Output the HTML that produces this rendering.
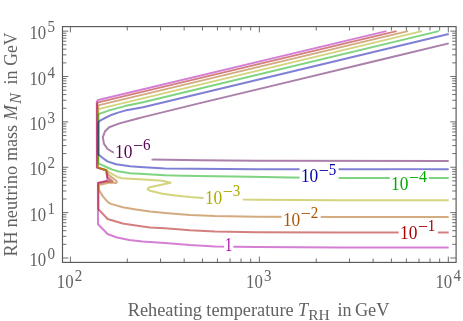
<!DOCTYPE html>
<html><head><meta charset="utf-8"><title>plot</title>
<style>html,body{margin:0;padding:0;background:#fff;}svg{display:block;will-change:transform;}text{font-family:"Liberation Serif",serif;}</style></head><body>
<svg width="463" height="321" viewBox="0 0 463 321">
<rect x="0" y="0" width="463" height="321" fill="#fff"/>
<path d="M386.5,31.1 L98.2,100.0 L97.3,100.7 L96.8,102.0 L96.9,167.5 L106.2,170.2 L107.6,180.5 L97.9,183.0 L98.0,224.2 L107.6,234.0 L116.1,237.3 L129.2,239.9 L142.3,241.6 L165.0,243.1 L190.0,245.1 L215.0,246.5 L256.0,247.1 L340.0,247.5 L448.7,247.6" fill="none" stroke="#aa00aa" stroke-opacity="0.50" stroke-width="2.00" stroke-linejoin="round" stroke-linecap="butt" />
<path d="M396.6,31.1 L98.2,102.4 L97.2,103.4 L97.2,167.6 L106.3,170.3 L107.3,176.6 L107.9,177.6 L112.6,181.4 L108.2,181.2 L98.3,183.1 L98.5,209.2 L107.6,219.0 L122.7,223.5 L135.8,225.5 L150.0,227.5 L165.0,228.3 L190.0,230.2 L215.0,231.4 L256.0,232.2 L340.0,232.5 L448.7,232.6" fill="none" stroke="#aa0000" stroke-opacity="0.50" stroke-width="2.00" stroke-linejoin="round" stroke-linecap="butt" />
<path d="M408.0,31.1 L99.1,105.1 L98.1,106.2 L98.0,167.6 L106.5,170.3 L108.5,174.9 L116.3,180.8 L116.9,181.7 L116.3,182.9 L110.0,182.6 L99.6,184.7 L98.7,185.2 L98.7,189.6 L103.1,196.6 L107.9,202.2 L110.9,203.9 L122.7,207.2 L135.8,209.4 L150.0,211.5 L165.0,213.0 L190.0,215.0 L215.0,216.1 L256.0,216.8 L340.0,217.0 L448.7,217.1" fill="none" stroke="#aa5500" stroke-opacity="0.50" stroke-width="2.00" stroke-linejoin="round" stroke-linecap="butt" />
<path d="M421.9,31.1 L99.2,108.9 L98.2,110.0 L98.1,167.6 L106.5,170.2 L109.5,172.3 L112.7,174.4 L117.9,177.2 L122.0,178.3 L130.0,178.8 L143.8,179.5 L162.6,180.7 L170.7,182.8 L162.6,184.4 L148.8,187.5 L147.6,189.4 L150.0,190.7 L162.6,193.8 L175.1,195.4 L190.0,197.1 L202.6,198.0 L242.8,199.5 L256.0,199.7 L340.0,200.2 L448.7,200.3" fill="none" stroke="#aaaa00" stroke-opacity="0.50" stroke-width="2.00" stroke-linejoin="round" stroke-linecap="butt" />
<path d="M438.9,31.1 L143.0,102.3 L125.0,106.1 L110.0,110.1 L99.2,113.9 L98.2,115.2 L98.2,163.3 L107.4,167.5 L112.5,169.6 L117.9,171.2 L130.0,173.3 L143.8,174.1 L165.0,175.3 L183.0,175.7 L215.0,176.2 L250.0,176.8 L290.0,177.5 L340.0,177.9 L448.7,178.0" fill="none" stroke="#00aa00" stroke-opacity="0.50" stroke-width="2.00" stroke-linejoin="round" stroke-linecap="butt" />
<path d="M448.7,34.0 L143.0,107.2 L125.0,110.6 L118.0,112.6 L112.0,114.7 L106.0,117.5 L101.5,119.8 L99.3,121.2 L98.5,122.6 L98.5,154.4 L103.1,158.2 L107.4,161.4 L116.1,164.2 L130.0,166.2 L140.0,167.0 L165.0,168.5 L256.0,169.3 L448.7,169.3" fill="none" stroke="#0000aa" stroke-opacity="0.50" stroke-width="2.00" stroke-linejoin="round" stroke-linecap="butt" />
<path d="M448.7,43.4 L388.0,58.0 L270.0,86.4 L201.0,102.9 L143.0,117.1 L136.8,118.8 L119.5,123.4 L109.2,127.2 L104.9,131.5 L102.8,137.3 L104.0,143.9 L107.5,149.0 L112.6,152.0 L116.0,153.2" fill="none" stroke="#550055" stroke-opacity="0.50" stroke-width="2.00" stroke-linejoin="round" stroke-linecap="butt" />
<path d="M151.5,159.5 L200.0,160.3 L256.0,160.8 L448.7,160.9" fill="none" stroke="#550055" stroke-opacity="0.50" stroke-width="2.00" stroke-linejoin="round" stroke-linecap="butt" />
<rect x="113.8" y="138.4" width="39.1" height="20.4" fill="#fff"/><text transform="translate(115.10,157.80) scale(1.020,1.055)" font-size="17.00" fill="#550055" >10</text><text transform="translate(133.00,151.10) scale(1.160,1.120)" font-size="15.50" fill="#550055" >−</text><text transform="translate(142.90,150.10) scale(0.970,1.120)" font-size="15.50" fill="#550055" >6</text>
<rect x="299.6" y="162.5" width="39.1" height="20.4" fill="#fff"/><text transform="translate(300.90,181.90) scale(1.020,1.055)" font-size="17.00" fill="#0000aa" >10</text><text transform="translate(318.80,175.80) scale(1.160,1.120)" font-size="15.50" fill="#0000aa" >−</text><text transform="translate(328.70,174.80) scale(0.970,1.120)" font-size="15.50" fill="#0000aa" >5</text>
<rect x="389.8" y="170.5" width="39.1" height="20.4" fill="#fff"/><text transform="translate(391.10,189.90) scale(1.020,1.055)" font-size="17.00" fill="#00aa00" >10</text><text transform="translate(409.00,183.20) scale(1.160,1.120)" font-size="15.50" fill="#00aa00" >−</text><text transform="translate(418.90,182.20) scale(1.030,1.120)" font-size="15.50" fill="#00aa00" >4</text>
<rect x="203.6" y="184.5" width="39.1" height="20.4" fill="#fff"/><text transform="translate(204.90,203.90) scale(1.020,1.055)" font-size="17.00" fill="#aaaa00" >10</text><text transform="translate(222.80,197.20) scale(1.160,1.120)" font-size="15.50" fill="#aaaa00" >−</text><text transform="translate(232.70,196.20) scale(0.970,1.120)" font-size="15.50" fill="#aaaa00" >3</text>
<rect x="281.6" y="206.5" width="39.1" height="20.4" fill="#fff"/><text transform="translate(282.90,225.90) scale(1.020,1.055)" font-size="17.00" fill="#aa5500" >10</text><text transform="translate(300.80,219.20) scale(1.160,1.120)" font-size="15.50" fill="#aa5500" >−</text><text transform="translate(310.70,218.20) scale(0.970,1.120)" font-size="15.50" fill="#aa5500" >2</text>
<rect x="398.7" y="219.5" width="39.1" height="20.4" fill="#fff"/><text transform="translate(400.00,238.90) scale(1.020,1.055)" font-size="17.00" fill="#aa0000" >10</text><text transform="translate(417.90,231.90) scale(1.160,1.120)" font-size="15.50" fill="#aa0000" >−</text><text transform="translate(427.80,230.90) scale(0.970,1.120)" font-size="15.50" fill="#aa0000" >1</text>
<rect x="224.1" y="237.5" width="9.2" height="15.0" fill="#fff"/><text transform="translate(224.90,251.00) scale(0.850,1.055)" font-size="17.00" fill="#aa00aa" >1</text>
<rect x="62.5" y="26.6" width="393.6" height="235.8" fill="none" stroke="#585858" stroke-width="1.15"/>
<path d="M62.5,258.00 h5.8 M456.1,258.00 h-5.8 M62.5,244.34 h3.9 M456.1,244.34 h-3.9 M62.5,236.35 h3.9 M456.1,236.35 h-3.9 M62.5,230.68 h3.9 M456.1,230.68 h-3.9 M62.5,226.29 h3.9 M456.1,226.29 h-3.9 M62.5,222.70 h3.9 M456.1,222.70 h-3.9 M62.5,219.66 h3.9 M456.1,219.66 h-3.9 M62.5,217.03 h3.9 M456.1,217.03 h-3.9 M62.5,214.71 h3.9 M456.1,214.71 h-3.9 M62.5,212.63 h5.8 M456.1,212.63 h-5.8 M62.5,198.97 h3.9 M456.1,198.97 h-3.9 M62.5,190.98 h3.9 M456.1,190.98 h-3.9 M62.5,185.31 h3.9 M456.1,185.31 h-3.9 M62.5,180.92 h3.9 M456.1,180.92 h-3.9 M62.5,177.33 h3.9 M456.1,177.33 h-3.9 M62.5,174.29 h3.9 M456.1,174.29 h-3.9 M62.5,171.66 h3.9 M456.1,171.66 h-3.9 M62.5,169.34 h3.9 M456.1,169.34 h-3.9 M62.5,167.26 h5.8 M456.1,167.26 h-5.8 M62.5,153.60 h3.9 M456.1,153.60 h-3.9 M62.5,145.61 h3.9 M456.1,145.61 h-3.9 M62.5,139.94 h3.9 M456.1,139.94 h-3.9 M62.5,135.55 h3.9 M456.1,135.55 h-3.9 M62.5,131.96 h3.9 M456.1,131.96 h-3.9 M62.5,128.92 h3.9 M456.1,128.92 h-3.9 M62.5,126.29 h3.9 M456.1,126.29 h-3.9 M62.5,123.97 h3.9 M456.1,123.97 h-3.9 M62.5,121.89 h5.8 M456.1,121.89 h-5.8 M62.5,108.23 h3.9 M456.1,108.23 h-3.9 M62.5,100.24 h3.9 M456.1,100.24 h-3.9 M62.5,94.57 h3.9 M456.1,94.57 h-3.9 M62.5,90.18 h3.9 M456.1,90.18 h-3.9 M62.5,86.59 h3.9 M456.1,86.59 h-3.9 M62.5,83.55 h3.9 M456.1,83.55 h-3.9 M62.5,80.92 h3.9 M456.1,80.92 h-3.9 M62.5,78.60 h3.9 M456.1,78.60 h-3.9 M62.5,76.52 h5.8 M456.1,76.52 h-5.8 M62.5,62.86 h3.9 M456.1,62.86 h-3.9 M62.5,54.87 h3.9 M456.1,54.87 h-3.9 M62.5,49.20 h3.9 M456.1,49.20 h-3.9 M62.5,44.81 h3.9 M456.1,44.81 h-3.9 M62.5,41.22 h3.9 M456.1,41.22 h-3.9 M62.5,38.18 h3.9 M456.1,38.18 h-3.9 M62.5,35.55 h3.9 M456.1,35.55 h-3.9 M62.5,33.23 h3.9 M456.1,33.23 h-3.9 M62.5,31.15 h5.8 M456.1,31.15 h-5.8 M70.40,262.4 v-5.8 M70.40,26.6 v5.8 M127.28,262.4 v-3.9 M127.28,26.6 v3.9 M160.55,262.4 v-3.9 M160.55,26.6 v3.9 M184.16,262.4 v-3.9 M184.16,26.6 v3.9 M202.47,262.4 v-3.9 M202.47,26.6 v3.9 M217.43,262.4 v-3.9 M217.43,26.6 v3.9 M230.08,262.4 v-3.9 M230.08,26.6 v3.9 M241.04,262.4 v-3.9 M241.04,26.6 v3.9 M250.70,262.4 v-3.9 M250.70,26.6 v3.9 M259.35,262.4 v-5.8 M259.35,26.6 v5.8 M316.23,262.4 v-3.9 M316.23,26.6 v3.9 M349.50,262.4 v-3.9 M349.50,26.6 v3.9 M373.11,262.4 v-3.9 M373.11,26.6 v3.9 M391.42,262.4 v-3.9 M391.42,26.6 v3.9 M406.38,262.4 v-3.9 M406.38,26.6 v3.9 M419.03,262.4 v-3.9 M419.03,26.6 v3.9 M429.99,262.4 v-3.9 M429.99,26.6 v3.9 M439.65,262.4 v-3.9 M439.65,26.6 v3.9 M448.30,262.4 v-5.8 M448.30,26.6 v5.8" fill="none" stroke="#5e5e5e" stroke-width="0.9"/>
<text transform="translate(29.50,266.20) scale(0.985,1.055)" font-size="17.00" fill="#626262" >10</text><text transform="translate(47.50,259.10) scale(0.970,1.120)" font-size="15.50" fill="#626262" >0</text>
<text transform="translate(29.50,220.83) scale(0.985,1.055)" font-size="17.00" fill="#626262" >10</text><text transform="translate(47.50,213.73) scale(0.970,1.120)" font-size="15.50" fill="#626262" >1</text>
<text transform="translate(29.50,175.46) scale(0.985,1.055)" font-size="17.00" fill="#626262" >10</text><text transform="translate(47.50,168.36) scale(0.970,1.120)" font-size="15.50" fill="#626262" >2</text>
<text transform="translate(29.50,130.09) scale(0.985,1.055)" font-size="17.00" fill="#626262" >10</text><text transform="translate(47.50,122.99) scale(0.970,1.120)" font-size="15.50" fill="#626262" >3</text>
<text transform="translate(29.50,84.72) scale(0.985,1.055)" font-size="17.00" fill="#626262" >10</text><text transform="translate(47.50,77.62) scale(0.970,1.120)" font-size="15.50" fill="#626262" >4</text>
<text transform="translate(29.50,39.35) scale(0.985,1.055)" font-size="17.00" fill="#626262" >10</text><text transform="translate(47.50,32.25) scale(0.970,1.120)" font-size="15.50" fill="#626262" >5</text>
<text transform="translate(56.80,288.00) scale(0.985,1.055)" font-size="17.00" fill="#626262" >10</text><text transform="translate(74.80,280.90) scale(0.970,1.120)" font-size="15.50" fill="#626262" >2</text>
<text transform="translate(246.05,288.00) scale(0.985,1.055)" font-size="17.00" fill="#626262" >10</text><text transform="translate(264.05,280.90) scale(0.970,1.120)" font-size="15.50" fill="#626262" >3</text>
<text transform="translate(435.50,288.00) scale(0.985,1.055)" font-size="17.00" fill="#626262" >10</text><text transform="translate(453.50,280.90) scale(0.970,1.120)" font-size="15.50" fill="#626262" >4</text>
<g transform="translate(0,316.0)" fill="#626262"><text x="127.70" y="0.00" font-size="18.00" textLength="74.30" lengthAdjust="spacingAndGlyphs">Reheating</text><text x="206.30" y="0.00" font-size="18.00" textLength="87.30" lengthAdjust="spacingAndGlyphs">temperature</text><text x="297.90" y="0.00" font-size="18.00" font-style="italic">T</text><text x="308.20" y="4.10" font-size="15.50">RH</text><text x="337.40" y="0.00" font-size="18.00">in</text><text x="354.90" y="0.00" font-size="18.00" textLength="34.60" lengthAdjust="spacingAndGlyphs">GeV</text></g>
<g transform="translate(16.6,256.8) rotate(-90)" fill="#626262"><text x="0.36" y="0.00" font-size="18.00">RH</text><text x="29.40" y="0.00" font-size="18.00" textLength="61.60" lengthAdjust="spacingAndGlyphs">neutrino</text><text x="95.70" y="0.00" font-size="18.00" textLength="36.30" lengthAdjust="spacingAndGlyphs">mass</text><text x="136.80" y="0.00" font-size="18.00" font-style="italic">M</text><text x="153.00" y="4.00" font-size="16.00" font-style="italic">N</text><text x="172.36" y="0.00" font-size="18.00">in</text><text x="191.00" y="0.00" font-size="18.00" textLength="33.20" lengthAdjust="spacingAndGlyphs">GeV</text></g>
</svg></body></html>
